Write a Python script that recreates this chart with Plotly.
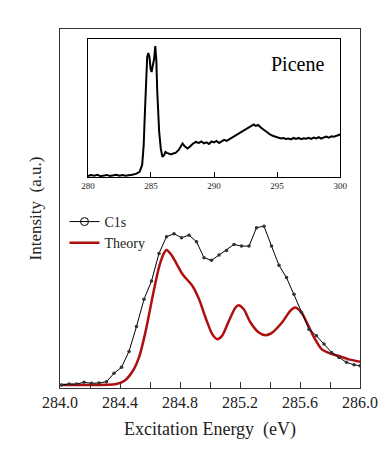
import plotly.graph_objects as go

# C1s measured spectrum (main panel)
c1s_energy = [284.01, 284.06, 284.11, 284.16, 284.21, 284.26, 284.31, 284.36, 284.41, 284.46,
              284.51, 284.56, 284.61, 284.66, 284.71, 284.76, 284.81, 284.86, 284.91, 284.96,
              285.01, 285.06, 285.11, 285.16, 285.21, 285.26, 285.31, 285.36, 285.41, 285.46,
              285.51, 285.56, 285.61, 285.66, 285.71, 285.76, 285.81, 285.86, 285.91, 285.96, 286.0]
c1s_intensity = [3, 4, 4, 5.7, 4.7, 5, 6.3, 14.7, 20.7, 36.7,
                 61.7, 89, 107.3, 135, 151.7, 154.7, 150.7, 153.3, 146.7, 130.7,
                 128, 133.3, 138, 144, 142.3, 142.3, 160.7, 162.3, 142.3, 123,
                 110.7, 94, 75.7, 59, 52.3, 44, 35.7, 30.7, 25.7, 23.3, 22.3]

# theory curve
theory_energy = [284.0, 284.155, 284.375, 284.43, 284.486, 284.53, 284.574, 284.618, 284.662, 284.695,
                 284.71, 284.74, 284.773, 284.817, 284.883, 284.927, 284.97, 285.015, 285.048, 285.08,
                 285.126, 285.17, 285.19, 285.225, 285.27, 285.325, 285.37, 285.41, 285.48, 285.535,
                 285.567, 285.61, 285.656, 285.70, 285.744, 285.8, 285.854, 285.92, 286.0]
theory_intensity = [3, 3, 4, 7.3, 17.3, 32.3, 59, 92.3, 122.3, 135.7,
                    138.3, 134, 125.7, 114, 102.3, 89, 70.7, 54, 49, 52.3,
                    67.3, 80.7, 83, 79, 65.7, 55.7, 53, 55, 65.7, 77.3,
                    80.7, 75.7, 62.3, 49, 39, 34.7, 32.3, 29, 26.3]

# inset: wide range picene spectrum
inset_energy = [280.0, 280.25, 280.5, 280.75, 281.0, 281.25, 281.5, 281.75, 282.0, 282.25,
                282.5, 282.75, 283.0, 283.25, 283.5, 283.8, 284.1, 284.3, 284.42, 284.52,
                284.6, 284.7, 284.79, 284.88, 284.97, 285.05, 285.15, 285.25, 285.34, 285.42,
                285.5, 285.58, 285.65, 285.78, 285.91, 286.05, 286.15, 286.26, 286.45, 286.6,
                286.75, 286.95, 287.2, 287.4, 287.5, 287.65, 287.9, 288.1, 288.3, 288.55,
                288.8, 289.0, 289.2, 289.4, 289.6, 289.8, 290.0, 290.2, 290.4, 290.6,
                290.8, 291.0, 291.2, 291.4, 291.6, 291.8, 292.0, 292.2, 292.4, 292.6,
                292.8, 293.0, 293.15, 293.3, 293.5, 293.7, 293.9, 294.1, 294.3, 294.5,
                294.7, 294.9, 295.1, 295.3, 295.5, 295.7, 295.9, 296.1, 296.3, 296.5,
                296.7, 296.9, 297.1, 297.3, 297.5, 297.7, 297.9, 298.1, 298.3, 298.5,
                298.7, 298.9, 299.1, 299.3, 299.5, 299.7, 299.85, 300.0]
inset_intensity = [1.0, 1.8, 1.2, 2.2, 0.8, 1.6, 2.0, 1.0, 1.4, 2.1,
                   1.2, 1.9, 1.1, 2.0, 2.2, 3.0, 5.0, 12, 31, 65,
                   100, 120, 124, 120, 108, 105, 112, 118, 131, 118,
                   85, 60, 45, 28, 20, 22, 25, 24, 23, 22.5,
                   23.5, 24, 27, 32, 33.5, 31, 28.5, 30.5, 33, 35,
                   34, 35.5, 33.5, 34.5, 33, 35.5, 34.5, 36, 34, 35.5,
                   37, 36, 37.5, 39, 40.5, 42, 43.5, 45, 46.5, 48.5,
                   50, 51, 52.5, 51, 52, 49.5, 47.5, 45.5, 43.4, 42,
                   41, 40, 39.5, 38.5, 39, 38, 38.5, 37.5, 39, 38,
                   39, 37.8, 38.6, 38.2, 39.2, 38, 39.4, 38.6, 39.8, 38.4,
                   39.5, 40.3, 39.2, 40.6, 40.2, 41.4, 41.7, 42.5]

serif = "Liberation Serif"
nb = "\u00a0"

fig = go.Figure()

fig.add_trace(go.Scatter(x=theory_energy, y=theory_intensity, mode='lines',
                         line=dict(color='#b00f0f', width=2.5, shape='spline', smoothing=0.8),
                         name='Theory', showlegend=False))
fig.add_trace(go.Scatter(x=c1s_energy, y=c1s_intensity, mode='lines+markers',
                         line=dict(color='black', width=1),
                         marker=dict(size=3.5, color='#333333'),
                         name='C1s', showlegend=False))
# legend-only entries (open circle symbol like the original)
fig.add_trace(go.Scatter(x=[None], y=[None], mode='lines+markers',
                         line=dict(color='black', width=1),
                         marker=dict(size=8, symbol='circle-open', color='black'),
                         name='C1s'))
fig.add_trace(go.Scatter(x=[None], y=[None], mode='lines',
                         line=dict(color='#b00f0f', width=2.5), name='Theory'))

fig.add_trace(go.Scatter(x=inset_energy, y=inset_intensity, mode='lines',
                         line=dict(color='black', width=2),
                         xaxis='x2', yaxis='y2', showlegend=False))

# page body has an 8px margin, so the figure is drawn 8px smaller
fig.update_layout(
    width=382, height=441,
    margin=dict(l=52, r=28, t=21, b=61),
    paper_bgcolor='white', plot_bgcolor='white',
    font=dict(family=serif, color='#222222', size=15),
    xaxis=dict(range=[284.0, 286.0], dtick=0.4, tick0=284.0, tickformat='.1f',
               ticks='inside', ticklen=6, tickcolor='#333333',
               minor=dict(dtick=0.2, ticks='inside', ticklen=6, tickcolor='#333333'),
               showline=True, linecolor='#333333', linewidth=1, mirror=True,
               showgrid=False, zeroline=False,
               tickfont=dict(size=16),
               title=dict(text='Excitation Energy' + nb + nb + '(eV)', font=dict(size=18), standoff=12)),
    yaxis=dict(range=[0, 360], showticklabels=False, ticks='',
               showline=True, linecolor='#333333', linewidth=1, mirror=True,
               showgrid=False, zeroline=False,
               title=dict(text='Intensity' + nb + nb + '(a.u.)', font=dict(size=17), standoff=13)),
    xaxis2=dict(domain=[0.093, 0.934], anchor='y2', range=[280, 300], dtick=5,
                ticks='inside', ticklen=5, tickcolor='black',
                showline=True, linecolor='black', linewidth=1.2, mirror=True,
                showgrid=False, zeroline=False, tickfont=dict(size=9)),
    yaxis2=dict(domain=[0.588, 0.972], anchor='x2', range=[0, 138],
                showticklabels=False, ticks='',
                showline=True, linecolor='black', linewidth=1.2, mirror=True,
                showgrid=False, zeroline=False),
    legend=dict(x=0.015, y=0.507, xanchor='left', yanchor='top',
                bgcolor='rgba(0,0,0,0)', font=dict(size=14), tracegroupgap=0,
                itemwidth=30),
    annotations=[dict(text='Picene', x=296.6, y=113, xref='x2', yref='y2',
                      showarrow=False, font=dict(size=20, family=serif, color='black'))],
)

fig.write_html("out.html")
